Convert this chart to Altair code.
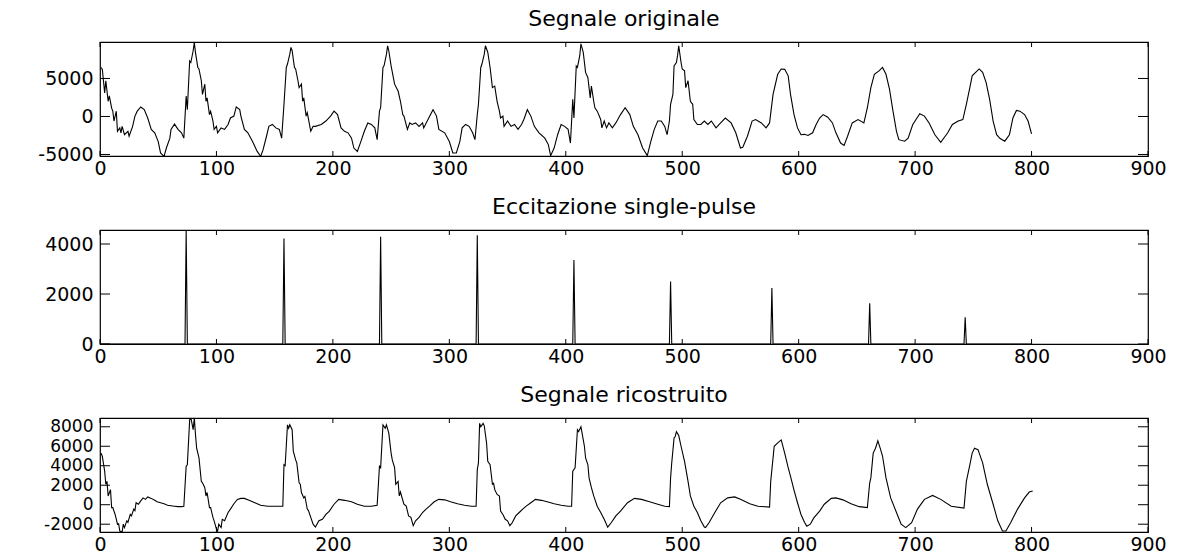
import altair as alt
import pandas as pd

FONT = "DejaVu Sans"
FS = 19
TFS = 22
W, H = 1048, 114

# ---------------- data ----------------
x_ticks = [0, 100, 200, 300, 400, 500, 600, 700, 800, 900]

orig_x = [1, 2, 4, 5, 7, 8, 10, 11, 12, 14,
          15, 17, 18, 19, 21, 24, 25, 28, 30, 32,
          35, 38, 41, 44, 47, 50, 52, 55, 57, 60,
          61, 64, 67, 70, 72, 74, 75, 77, 78, 80,
          81, 82, 84, 85, 87, 88, 90, 91, 92, 94,
          95, 97, 98, 100, 101, 104, 107, 110, 112, 115,
          117, 120, 121, 124, 127, 131, 135, 138, 140, 143,
          145, 148, 151, 154, 156, 158, 160, 161, 163, 164,
          165, 167, 168, 170, 171, 173, 174, 175, 177, 178,
          181, 183, 185, 190, 194, 198, 201, 204, 207, 210,
          213, 216, 218, 221, 224, 227, 230, 233, 236, 238,
          240, 241, 243, 244, 246, 247, 248, 250, 253, 256,
          258, 260, 261, 264, 266, 268, 271, 274, 277, 278,
          281, 286, 289, 291, 296, 300, 303, 306, 309, 311,
          314, 317, 320, 322, 324, 325, 327, 328, 330, 331,
          333, 335, 337, 339, 341, 343, 344, 346, 347, 350,
          353, 356, 359, 362, 364, 367, 370, 373, 377, 382,
          385, 387, 390, 393, 396, 399, 402, 404, 406, 407,
          409, 410, 412, 413, 415, 417, 419, 421, 422, 424,
          425, 427, 430, 431, 433, 435, 437, 440, 443, 447,
          451, 455, 458, 462, 466, 470, 473, 476, 479, 482,
          485, 487, 489, 490, 492, 493, 495, 496, 497, 499,
          500, 502, 503, 505, 507, 509, 510, 513, 516, 519,
          522, 525, 529, 533, 537, 542, 546, 550, 552, 556,
          560, 563, 568, 572, 575, 578, 582, 585, 588, 591,
          593, 596, 599, 602, 605, 608, 612, 615, 618, 621,
          625, 629, 632, 636, 639, 642, 646, 651, 656, 659,
          662, 665, 669, 672, 675, 678, 681, 684, 686, 691,
          694, 698, 704, 708, 712, 717, 722, 728, 732, 737,
          741, 744, 747, 749, 752, 755, 758, 761, 764, 767,
          770, 773, 777, 781, 784, 787, 790, 794, 797, 800]
orig_y = [6450, 6200, 3100, 4700, 2000, 2700, 1100, 700, -600, 700,
          -1950, -1500, -2150, -1300, -2400, -1950, -2600, -1300, 50, 700,
          1250, 900, -200, -1700, -2150, -3300, -4800, -5250, -4150, -2850,
          -1700, -1000, -1700, -2150, -2850, 2700, 900, 7300, 7100, 8650,
          9750, 8400, 6450, 6250, 4700, 2900, 4250, 2000, 2450, 250,
          700, -600, -1700, -1300, -2150, -1500, -1700, -1050, -200, 50,
          1250, 900, 50, -1700, -2150, -3300, -4600, -5250, -4400, -2600,
          -1300, -1050, -1500, -1700, -2850, 1600, 6450, 6900, 8200, 9100,
          8650, 6450, 6250, 4700, 3800, 4250, 2000, 2450, 50, 500,
          -1950, -1300, -1300, -1050, -600, 50, 700, 250, -1500, -1950,
          -2150, -2850, -4150, -4600, -3300, -1950, -850, -1050, -1500, -3050,
          700, 1150, 6450, 6700, 8200, 9300, 8650, 6650, 4250, 3350,
          2000, 250, 50, -1700, -850, -1050, -850, -1300, -850, -1500,
          -600, 900, 50, -1700, -2150, -3300, -4800, -4800, -3300, -1500,
          -1050, -1300, -2150, -3050, 250, 1600, 6450, 6900, 8200, 9300,
          8450, 6450, 3800, 4000, 2000, 700, -200, 50, -1300, -600,
          -1300, -1050, -1700, -1050, -400, 900, 50, -1300, -2150, -2850,
          -3700, -5150, -4150, -2400, -1050, -1300, -1700, -3500, 2250, -200,
          6650, 6450, 8000, 9550, 8450, 5800, 5100, 2450, 4000, 2000,
          1150, 700, -400, -1500, -600, -1500, -850, -1500, -850, 250,
          1150, 250, -1300, -2400, -4150, -5150, -3300, -1700, -600, -600,
          -1300, -2400, -600, 1600, 2900, 6650, 7100, 8000, 9300, 7100,
          6250, 6000, 3800, 4700, 2000, 1600, -400, -1050, -1050, -600,
          -1050, -600, -1500, -850, -200, -850, -2150, -4150, -4050, -2600,
          -600, -400, -850, -1500, -850, 2900, 5550, 6250, 6200, 5350,
          2900, 250, -1500, -2400, -2350, -2500, -2150, -1050, -200, 250,
          -100, -850, -2150, -3500, -3800, -2600, -850, -400, -850, 1150,
          3800, 5550, 6000, 6450, 5550, 3600, 700, -1950, -3050, -3250,
          -2850, -1050, 350, 50, -850, -2400, -3400, -2150, -1050, -600,
          -400, 1600, 3800, 5350, 5800, 6250, 5800, 4450, 2250, -600,
          -2400, -2900, -3250, -2400, -200, 800, 700, 250, -600, -2300]

pulse_x = [74, 158, 241, 324, 407, 490, 577, 661, 743]
pulse_h = [4550, 4220, 4290, 4350, 3360, 2500, 2240, 1630, 1070]

rec_x = [1, 2, 4, 5, 6, 7, 9, 10, 11, 13,
         15, 16, 17, 19, 20, 21, 23, 24, 26, 27,
         29, 30, 31, 33, 35, 37, 39, 41, 44, 47,
         49, 52, 55, 58, 61, 64, 67, 70, 72, 74,
         75, 77, 78, 80, 81, 82, 83, 85, 87, 88,
         90, 91, 92, 94, 95, 97, 98, 100, 101, 102,
         104, 105, 107, 110, 112, 115, 118, 121, 124, 128,
         133, 138, 144, 151, 157, 158, 159, 161, 162, 163,
         165, 166, 168, 169, 171, 172, 173, 175, 176, 178,
         179, 181, 183, 185, 188, 191, 194, 197, 201, 205,
         210, 216, 221, 227, 233, 238, 240, 241, 243, 245,
         246, 248, 250, 251, 253, 254, 256, 257, 258, 261,
         263, 265, 267, 269, 271, 274, 277, 280, 283, 287,
         291, 296, 301, 307, 313, 319, 323, 324, 325, 326,
         327, 329, 330, 332, 333, 335, 337, 338, 339, 341,
         343, 344, 346, 348, 350, 352, 354, 357, 360, 363,
         366, 370, 374, 379, 384, 390, 396, 402, 405, 406,
         408, 410, 411, 413, 414, 416, 417, 419, 420, 422,
         424, 427, 430, 433, 436, 439, 443, 447, 453, 459,
         465, 472, 479, 485, 489, 490, 491, 493, 494, 495,
         497, 499, 502, 505, 507, 510, 513, 516, 519, 520,
         523, 528, 533, 539, 545, 550, 558, 565, 575, 576,
         579, 582, 585, 588, 591, 593, 596, 599, 602, 605,
         607, 610, 613, 618, 622, 628, 632, 638, 645, 652,
         659, 661, 662, 664, 666, 668, 670, 672, 675, 679,
         684, 688, 692, 697, 702, 708, 715, 722, 731, 742,
         744, 747, 749, 751, 754, 758, 762, 767, 771, 775,
         778, 782, 788, 794, 798, 801]
rec_y = [5300, 4950, 3450, 2100, 2400, 900, 1550, -300, -300, -1000,
         -2000, -1950, -2700, -2800, -2000, -2350, -1650, -1800, -1000, -1150,
         -450, -600, 200, 50, 400, 700, 550, 800, 650, 450,
         300, 200, 100, -50, -100, -150, -200, -200, -150, 3950,
         4100, 8700, 8950, 7700, 8900, 7200, 5800, 4800, 2400, 2250,
         1750, 900, 1250, -300, -300, -1300, -1650, -2500, -2700, -2000,
         -2350, -1500, -1650, -800, -450, 100, 550, 650, 650, 450,
         200, -50, -150, -150, -150, 4100, 4000, 8200, 7850, 8200,
         7700, 5500, 4600, 4300, 2250, 2100, 1250, 700, 850, -450,
         -600, -1300, -2000, -2300, -1650, -1500, -1000, -650, 50, 550,
         450, 300, 50, -150, -150, -50, 3950, 3800, 8200, 7850,
         8200, 7350, 5300, 4600, 3800, 2100, 2400, 900, 1300, 50,
         -150, -1150, -1300, -2150, -1650, -1300, -800, -450, -150, 300,
         550, 500, 300, 100, -50, -150, -150, 3600, 4300, 8350,
         8000, 8350, 8100, 6300, 4450, 4100, 2100, 2200, 1550, 1050,
         900, -650, -1000, -1500, -1650, -2150, -1850, -1150, -800, -450,
         -150, 200, 550, 450, 300, 100, -50, -150, -150, 3450,
         3800, 7700, 7500, 8000, 7350, 6000, 4800, 4100, 2750, 1750,
         900, -150, -800, -1500, -2300, -1850, -1150, -650, 200, 650,
         550, 300, 50, -150, -200, 2750, 4300, 6850, 7000, 7500,
         7100, 6000, 4450, 2400, 900, -150, -800, -1650, -2300, -2350,
         -1850, -800, 200, 700, 800, 550, 100, -150, -250, 2400,
         6000, 6350, 6650, 5300, 3800, 2900, 1500, 200, -1000, -1800,
         -2200, -2000, -1350, -650, 50, 650, 700, 500, 100, -200,
         -300, 2250, 2750, 5300, 5800, 6550, 5800, 5000, 2750, 700,
         -800, -2000, -2350, -1850, -450, 550, 950, 550, -150, -350,
         2400, 4100, 5300, 5800, 5650, 4300, 2100, 50, -1650, -2700,
         -2700, -1850, -450, 700, 1300, 1400]

# pulse train table built from the read pulse positions/heights
exc_x, exc_y = [0], [0]
for p, h in zip(pulse_x, pulse_h):
    exc_x += [p - 1, p, p + 1]
    exc_y += [0, h, 0]
exc_x.append(800)
exc_y.append(0)

df_orig = pd.DataFrame({"x": orig_x, "y": orig_y})
df_exc = pd.DataFrame({"x": exc_x, "y": exc_y})
df_rec = pd.DataFrame({"x": rec_x, "y": rec_y})


def panel(df, title, ydom, yticks, yfs):
    xaxis = alt.Axis(values=x_ticks, grid=False, ticks=False, domain=False,
                     labelFlush=False, labelOverlap=False, labelPadding=3,
                     labelExpr="'' + datum.value",
                     minExtent=25, maxExtent=25)
    yaxis = alt.Axis(values=yticks, grid=False, ticks=False, domain=False,
                     labelFlush=False, labelOverlap=False, labelPadding=7,
                     labelFontSize=yfs,
                     labelExpr="'' + datum.value",
                     minExtent=94, maxExtent=94)
    xs = alt.Scale(domain=[0, 900], nice=False, zero=False)
    ys = alt.Scale(domain=ydom, nice=False, zero=False)

    line = alt.Chart(df).mark_line(color="black", strokeWidth=1.1, clip=True).encode(
        x=alt.X("x:Q", title=None, scale=xs, axis=xaxis),
        y=alt.Y("y:Q", title=None, scale=ys, axis=yaxis),
    )
    xt = pd.DataFrame({"t": x_ticks})
    yt = pd.DataFrame({"t": yticks})
    top = alt.Chart(xt).mark_rule(color="black", strokeWidth=1).encode(
        x=alt.X("t:Q", title=None, scale=xs, axis=xaxis), y=alt.value(0), y2=alt.value(5))
    bot = alt.Chart(xt).mark_rule(color="black", strokeWidth=1).encode(
        x=alt.X("t:Q", title=None, scale=xs, axis=xaxis), y=alt.value(H - 5), y2=alt.value(H))
    left = alt.Chart(yt).mark_rule(color="black", strokeWidth=1).encode(
        y=alt.Y("t:Q", title=None, scale=ys, axis=yaxis), x=alt.value(0), x2=alt.value(10))
    right = alt.Chart(yt).mark_rule(color="black", strokeWidth=1).encode(
        y=alt.Y("t:Q", title=None, scale=ys, axis=yaxis), x=alt.value(W - 10), x2=alt.value(W))
    return alt.layer(line, top, bot, left, right).properties(
        width=W, height=H,
        title=alt.TitleParams(title, fontSize=TFS, font=FONT, fontWeight="normal",
                              anchor="middle", offset=11, color="black"),
    )


p1 = panel(df_orig, "Segnale originale", [-5200, 9800], [-5000, 0, 5000], FS)
p2 = panel(df_exc, "Eccitazione single-pulse", [0, 4560], [0, 2000, 4000], FS)
p3 = panel(df_rec, "Segnale ricostruito", [-2800, 8900],
           [-2000, 0, 2000, 4000, 6000, 8000], 17)

chart = alt.vconcat(p1, p2, p3, spacing=12).properties(
    padding={"left": 5, "top": 6, "right": 5, "bottom": 0},
    background="white",
).configure_view(
    stroke="black", strokeWidth=1.2
).configure_axis(
    labelFont=FONT, labelFontSize=FS, labelColor="black"
)

chart.save("out.html", embed_options={"renderer": "svg", "actions": False})
